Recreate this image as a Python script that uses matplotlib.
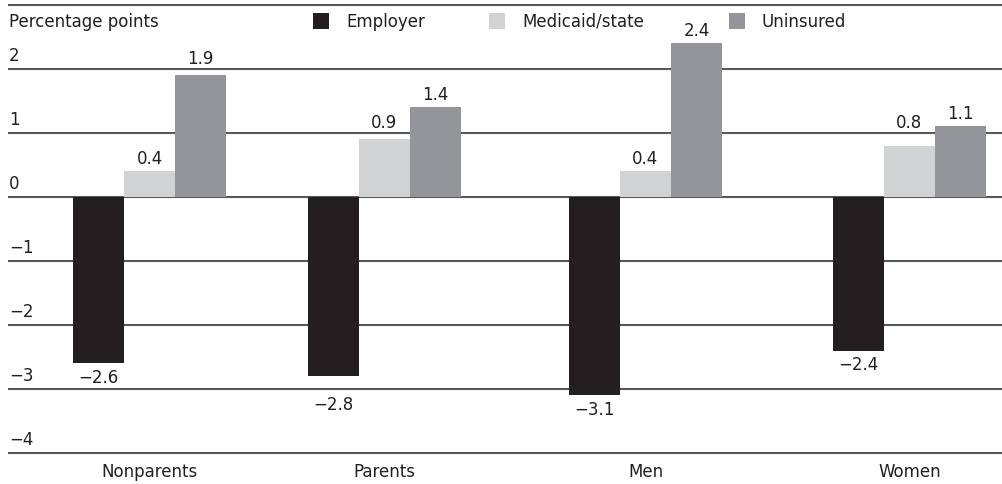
import matplotlib
matplotlib.use("Agg")
import matplotlib.pyplot as plt
import matplotlib.transforms as mtransforms
from matplotlib.patches import Rectangle
import numpy as np

groups = ["Nonparents", "Parents", "Men", "Women"]
series = ["Employer", "Medicaid/state", "Uninsured"]
employer = [-2.6, -2.8, -3.1, -2.4]
medicaid = [0.4, 0.9, 0.4, 0.8]
uninsured = [1.9, 1.4, 2.4, 1.1]
y_ticks = [2, 1, 0, -1, -2, -3, -4]

# layout: group centres along the category axis
group_pos = [0.0, 0.92, 1.945, 2.98]

colors = ["#231f20", "#d1d2d4", "#939598"]
grid_color = "#58595b"
text_color = "#231f20"

plt.rcParams["font.family"] = ["DejaVu Sans"]
fs = 12.0

W, H = 1003, 484
fig = plt.figure(figsize=(W / 100, H / 100), dpi=100)
ax = fig.add_axes([9 / W, 31 / H, 1 - 9 / W, (453 - 4.7) / H])
ax.set_xlim(-0.551, 3.347)
ax.set_ylim(-4, 3.0)

x = np.array(group_pos)
w = 0.2
offsets = [-w, 0, w]
values = [employer, medicaid, uninsured]

# gridlines with their labels sitting just above each line
for t in y_ticks:
    ax.axhline(t, color=grid_color, linewidth=1.5, zorder=2, clip_on=False)
    ax.annotate(str(t).replace("-", "\u2212"), (0, t),
                xycoords=mtransforms.blended_transform_factory(ax.transAxes, ax.transData),
                xytext=(0, 8), textcoords="offset pixels", annotation_clip=False,
                ha="left", va="baseline", fontsize=fs, color=text_color)

grid_disp = [ax.transData.transform((0, t))[1] for t in y_ticks]
gap, digit_h = 7.5, 12.2


def hits_grid(lo, hi):
    for g in grid_disp:
        if lo - 2 < g < hi + 2:
            return g
    return None


for vals, off, col in zip(values, offsets, colors):
    bars = ax.bar(x + off, vals, width=w, color=col, zorder=3, linewidth=0)
    for b, v in zip(bars, vals):
        label = f"{v:.1f}".replace("-", "\u2212")
        xc = b.get_x() + b.get_width() / 2
        end = ax.transData.transform((0, v))[1]
        if v >= 0:
            base = end + gap
            g = hits_grid(base, base + digit_h)
            if g is not None:
                base = g + 4.5
        else:
            top = end - gap
            g = hits_grid(top - digit_h, top)
            if g is not None:
                top = g - 9
            base = top - digit_h
        ax.annotate(label, (xc, v), xytext=(0, base - end), textcoords="offset pixels",
                    ha="center", va="baseline", fontsize=fs, color=text_color,
                    annotation_clip=False)

for s in ["left", "right", "bottom"]:
    ax.spines[s].set_visible(False)
ax.spines["top"].set_color(grid_color)
ax.spines["top"].set_linewidth(1.5)

ax.set_yticks([])
ax.set_xticks(x)
ax.set_xticklabels(groups, fontsize=fs, color=text_color)
ax.tick_params(axis="x", length=0, pad=7)

fig.text(9 / W, 1 - 27 / H, "Percentage points", ha="left", va="baseline",
         fontsize=fs, color=text_color)

# legend: square swatch followed by its label
legend_x = [313, 489, 729]
for name, col, lx in zip(series, colors, legend_x):
    fig.add_artist(Rectangle((lx / W, 1 - 29 / H), 16 / W, 16 / H,
                             transform=fig.transFigure, facecolor=col, edgecolor="none"))
    fig.text((lx + 33) / W, 1 - 27 / H, name, ha="left", va="baseline",
             fontsize=fs, color=text_color)

fig.savefig("out.png", dpi=100)
